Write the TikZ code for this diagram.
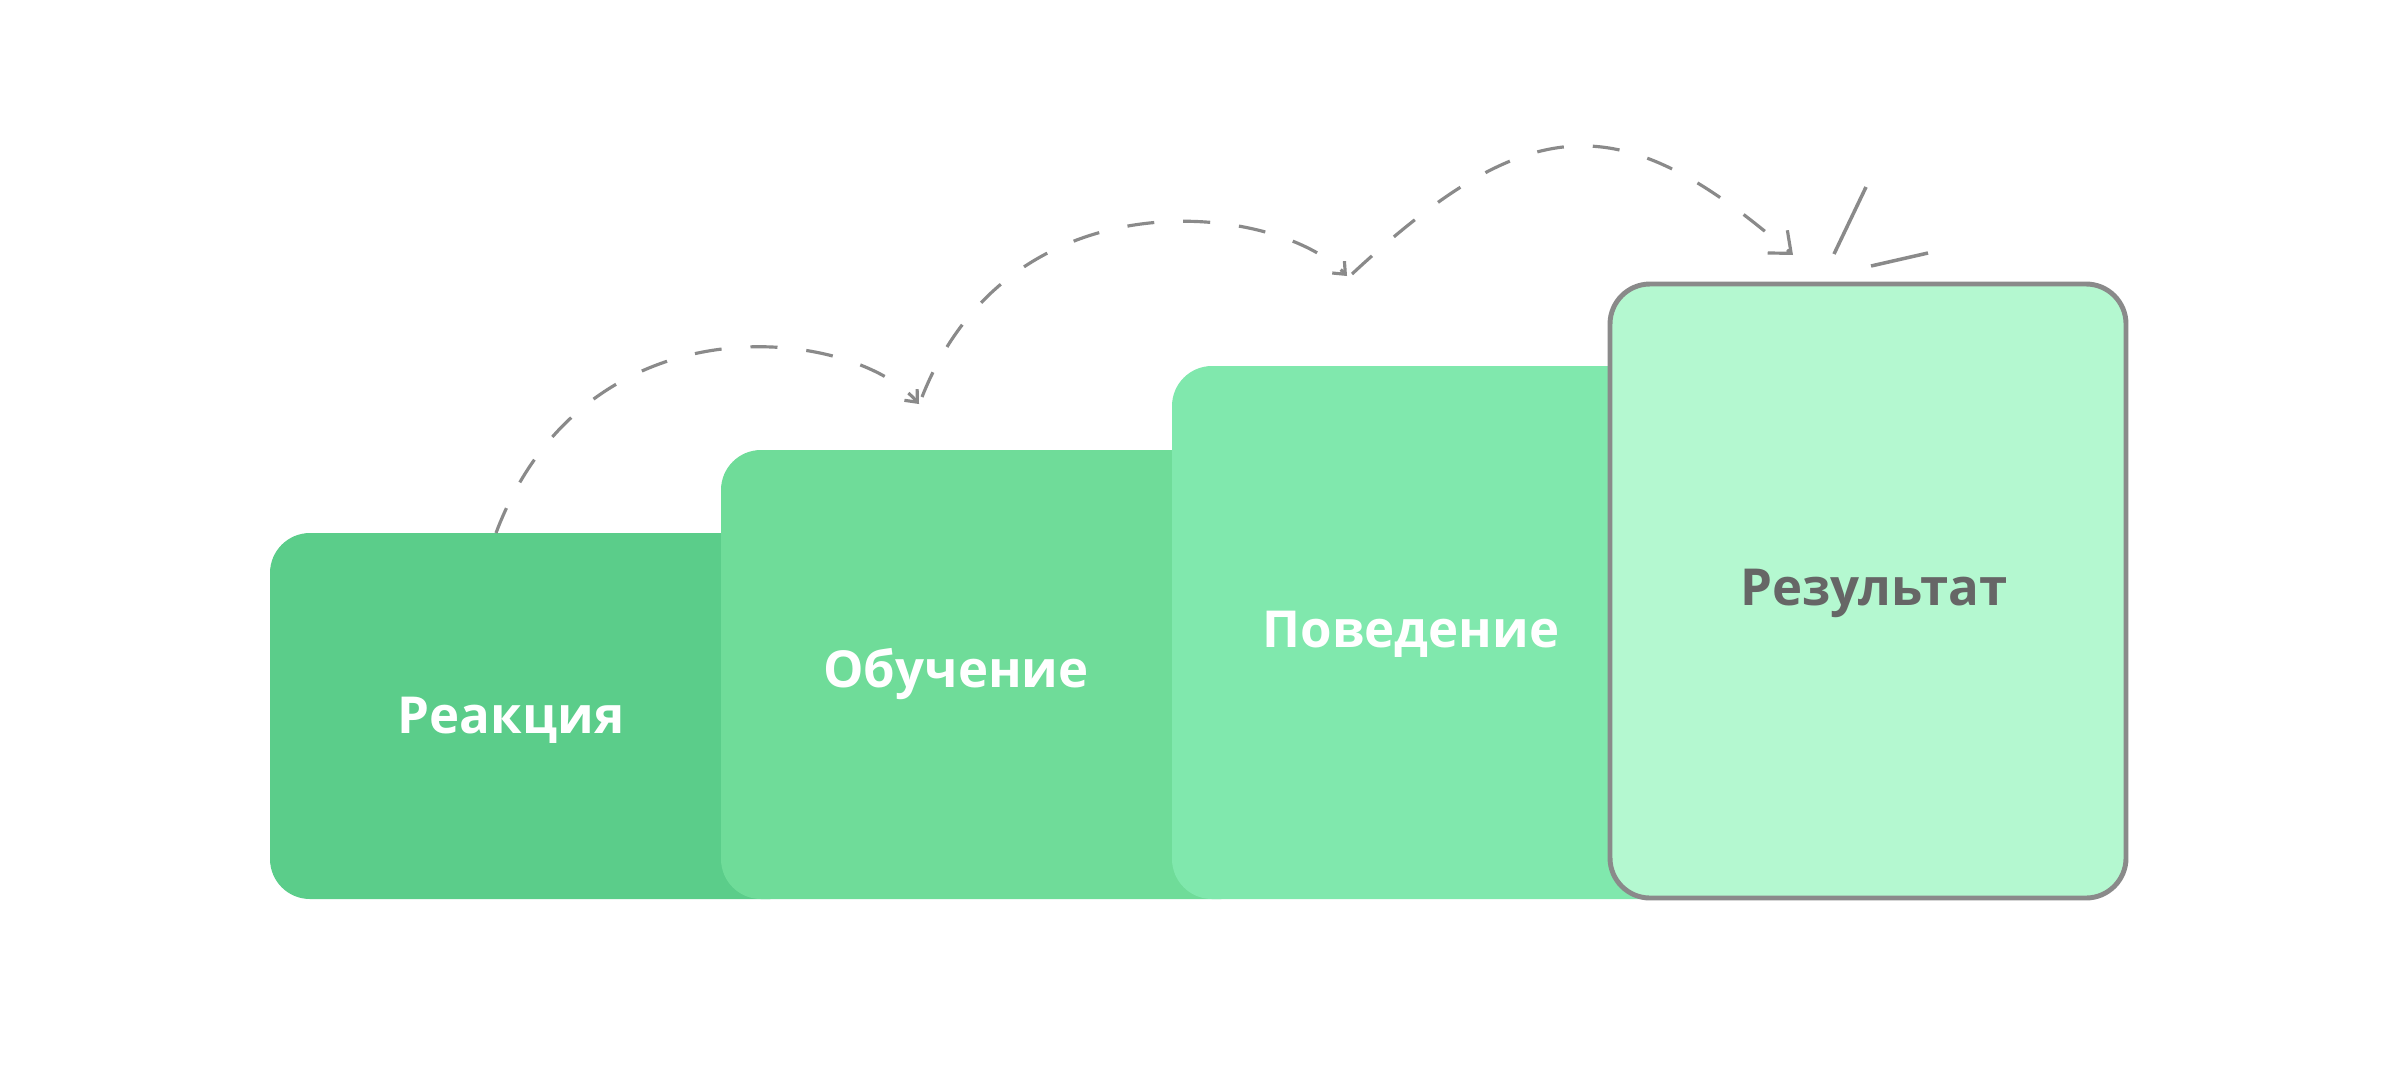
\documentclass[tikz,border=0pt]{standalone}
\usepackage{fontspec}
\setmainfont{Open Sans}
\usepackage{tikz}
\usetikzlibrary{positioning,arrows.meta,calc}

\definecolor{stepA}{HTML}{5BCD8A}
\definecolor{stepB}{HTML}{6FDC99}
\definecolor{stepC}{HTML}{80E8AD}
\definecolor{stepD}{HTML}{B4F8D0}
\definecolor{lineg}{HTML}{8A8A8A}
\definecolor{textg}{HTML}{666666}

\tikzstyle{box} = [rectangle, rounded corners=0.4cm, draw=none, inner sep=0, outer sep=0, anchor=south west, minimum width=5.4cm]
\tikzstyle{lbl} = [font=\bfseries\fontsize{14.5}{17}\selectfont, text=white, anchor=base, inner sep=0]
\tikzstyle{jump} = [draw=lineg, line width=0.9pt, dash pattern=on 0.27cm off 0.29cm]
\tikzstyle{spark} = [draw=lineg, line width=1pt]

\begin{document}
\begin{tikzpicture}[x=0.1mm, y=0.1mm]
  \useasboundingbox[fill=white] (0,0) rectangle (2400,1086);

  % steps
  \node[box, fill=stepA, minimum height=3.66cm] (reakt) at (270,187) {};
  \node[box, fill=stepB, minimum height=4.49cm] (obuch) at (721,187) {};
  \node[box, fill=stepC, minimum height=5.33cm] (poved) at (1172,187) {};
  \node[box, fill=stepD, draw=lineg, line width=1.4pt,
        minimum width=5.16cm, minimum height=6.14cm] (rezul) at (1610,188) {};

  \node[lbl] (treakt) at (511,353) {Реакция};
  \node[lbl] (tobuch) at (956,399) {Обучение};
  \node[lbl] (tpoved) at (1411,439) {Поведение};
  \node[lbl, text=textg] (trezul) at (1874,481) {Результат};

  % jumps
  \coordinate (s1) at (496,553);
  \coordinate (e1) at (919,682);
  \coordinate (s2) at (922,689);
  \coordinate (e2) at (1347,810);
  \coordinate (s3) at (1352,812);
  \coordinate (e3) at (1793,831);

  \draw[jump, -{Straight Barb[length=1mm, width=1.7mm]}]
    (s1) .. controls (585,790) and (850,760) .. (e1);
  \draw[jump, -{Straight Barb[length=1mm, width=1.7mm]}]
    (s2) .. controls (1011,915) and (1276,883) .. (e2);
  \draw[jump, -{Straight Barb[length=1.8mm, width=3mm]}]
    (s3) .. controls (1532,979) and (1622,979) .. (e3);

  \draw[spark] ([shift={(41,1)}]e3) -- ++(32,67);
  \draw[spark] ([shift={(78,-11)}]e3) -- ++(57,13);
\end{tikzpicture}
\end{document}
